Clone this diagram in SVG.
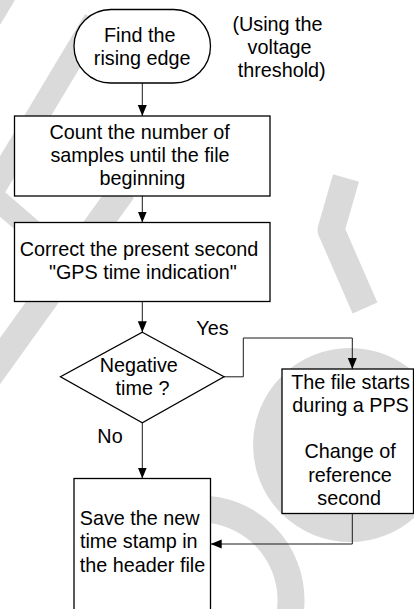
<svg xmlns="http://www.w3.org/2000/svg" width="414" height="609" viewBox="0 0 414 609">
<style>
.wm{fill:none;stroke:#dadada;stroke-linecap:butt;stroke-linejoin:round}
.shape{fill:#fff;stroke:#000;stroke-width:1.3}
.conn{fill:none;stroke:#1a1a1a;stroke-width:1}
text{font-family:"Liberation Sans",Arial,sans-serif;font-size:19.8px;fill:#000;text-anchor:middle}
</style>
<defs>
<marker id="ah" markerUnits="userSpaceOnUse" markerWidth="12" markerHeight="10" refX="11" refY="4.5" orient="auto">
<path d="M0,0 L11,4.5 L0,9 z" fill="#000"/>
</marker>
</defs>
<rect width="414" height="609" fill="#fff"/>
<g id="watermark">
<line class="wm" x1="10" y1="-14" x2="-14" y2="26" stroke-width="23"/>
<line class="wm" x1="95" y1="20" x2="-20" y2="212" stroke-width="23"/>
<line class="wm" x1="123" y1="190" x2="-28" y2="400" stroke-width="27"/>
<line class="wm" x1="-20" y1="185" x2="60" y2="254" stroke-width="22"/>
<polyline class="wm" points="346,178 331,230 365,308" stroke-width="27"/>
<circle class="wm" cx="350" cy="445" r="82.5" stroke-width="29"/>
<circle class="wm" cx="200" cy="600" r="91" stroke-width="27"/>
</g>
<g id="connectors">
<path class="conn" d="M142.3,83 V116" marker-end="url(#ah)"/>
<path class="conn" d="M142.3,196 V222.5" marker-end="url(#ah)"/>
<path class="conn" d="M142.3,301.7 V332.3" marker-end="url(#ah)"/>
<path class="conn" d="M224,376.8 H243.3 V338 H352.3 V369" marker-end="url(#ah)"/>
<path class="conn" d="M142.3,422.7 V478.5" marker-end="url(#ah)"/>
<path class="conn" d="M352.3,513.5 V544 H210.7" marker-end="url(#ah)"/>
</g>
<g id="n-start">
<rect class="shape" x="74" y="9.5" width="136.5" height="73.5" rx="36.75"/>
<text x="139.7" y="41.5">Find the</text>
<text x="142.2" y="64.8">rising edge</text>
</g>
<g id="n-note">
<text x="277.5" y="30.8">(Using the</text>
<text x="279.5" y="54.1">voltage</text>
<text x="281.7" y="77.4">threshold)</text>
</g>
<g id="n-count">
<rect class="shape" x="14.5" y="116" width="255.5" height="80"/>
<text x="139.6" y="138.6">Count the number of</text>
<text x="140" y="161.9">samples until the file</text>
<text x="142.4" y="185.2">beginning</text>
</g>
<g id="n-correct">
<rect class="shape" x="14.5" y="222.5" width="255.5" height="79"/>
<text x="139" y="255.5">Correct the present second</text>
<text x="142.8" y="278.8">"GPS time indication"</text>
</g>
<g id="n-decision">
<polygon class="shape" points="142.3,332.3 224,376.8 142.3,422.7 60.5,376.8"/>
<text x="138.8" y="371.7">Negative</text>
<text x="142.5" y="395">time ?</text>
</g>
<g id="label-yes"><text x="212.5" y="335">Yes</text></g>
<g id="label-no"><text x="110" y="442.7">No</text></g>
<g id="n-pps">
<rect class="shape" x="282" y="369" width="131.5" height="144.5"/>
<text x="350.5" y="388.5">The file starts</text>
<text x="350.5" y="411.8">during a PPS</text>
<text x="350.2" y="458.4">Change of</text>
<text x="350" y="481.7">reference</text>
<text x="349.2" y="505">second</text>
</g>
<g id="n-save">
<rect class="shape" x="74" y="478.5" width="136.5" height="150"/>
<text x="139.7" y="525">Save the new</text>
<text x="138.8" y="548.3">time stamp in</text>
<text x="142.5" y="571.6">the header file</text>
</g>
</svg>
